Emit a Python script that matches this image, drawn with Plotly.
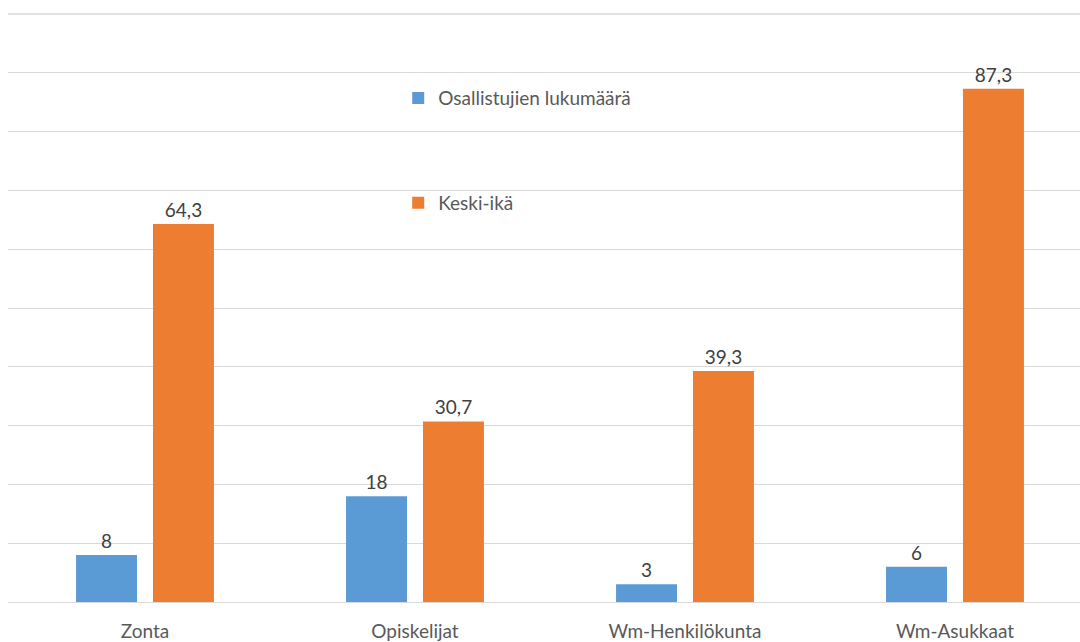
import plotly.graph_objects as go

# Ryhmät ja sarjat
categories = ["Zonta", "Opiskelijat", "Wm-Henkilökunta", "Wm-Asukkaat"]
participants = [8, 18, 3, 6]
mean_age = [64.3, 30.7, 39.3, 87.3]
series_names = ["Osallistujien lukumäärä", "Keski-ikä"]
y_max = 100

FONT = "Lato"
BLUE = "#5b9bd5"
ORANGE = "#ed7d31"
GRID = "#d9d9d9"


def fi_num(v):
    # Suomalainen desimaalipilkku
    if float(v).is_integer():
        return f"{int(v)}"
    return f"{v:.1f}".replace(".", ",")


fig = go.Figure()
fig.add_trace(go.Bar(
    x=categories, y=participants, name=series_names[0],
    marker=dict(color=BLUE, line=dict(width=0)),
    text=[fi_num(v) for v in participants], textposition="outside",
    textfont=dict(family=FONT, size=19, color="#404040"),
    cliponaxis=False, legend="legend", showlegend=True,
))
fig.add_trace(go.Bar(
    x=categories, y=mean_age, name=series_names[1],
    marker=dict(color=ORANGE, line=dict(width=0)),
    text=[fi_num(v) for v in mean_age], textposition="outside",
    textfont=dict(family=FONT, size=19, color="#404040"),
    cliponaxis=False, legend="legend2", showlegend=True,
))

# Ylin apuviiva (100) piirretään erikseen koko leveydelle
fig.add_shape(
    type="line", xref="paper", yref="y", x0=0, x1=1, y0=y_max, y1=y_max,
    line=dict(color=GRID, width=1.5), layer="above",
)

legend_common = dict(
    font=dict(family=FONT, size=19, color="#595959"),
    bgcolor="rgba(0,0,0,0)", xanchor="left", yanchor="middle",
    itemwidth=30, visible=True,
)

fig.update_layout(
    width=1080, height=642,
    margin=dict(l=8, r=0, t=10, b=40),
    paper_bgcolor="white", plot_bgcolor="white",
    showlegend=True,
    barmode="group", bargap=0.43, bargroupgap=0.208,
    font=dict(family=FONT, size=19, color="#595959"),
    xaxis=dict(
        range=[-0.5074, 3.463], showgrid=False, showline=False,
        ticks="", ticklabelstandoff=16, automargin=False,
        tickfont=dict(family=FONT, size=19, color="#595959"),
        fixedrange=True,
    ),
    yaxis=dict(
        range=[0, 100.68], tickmode="array", tickvals=list(range(0, 91, 10)),
        showgrid=True, gridcolor=GRID,
        gridwidth=1, showticklabels=False, zeroline=True, zerolinecolor=GRID,
        zerolinewidth=1, showline=False, ticks="", fixedrange=True,
    ),
    legend=dict(x=0.364, y=0.851, **legend_common),
    legend2=dict(x=0.364, y=0.674, **legend_common),
)

fig.write_html("out.html", config={"displayModeBar": False})
